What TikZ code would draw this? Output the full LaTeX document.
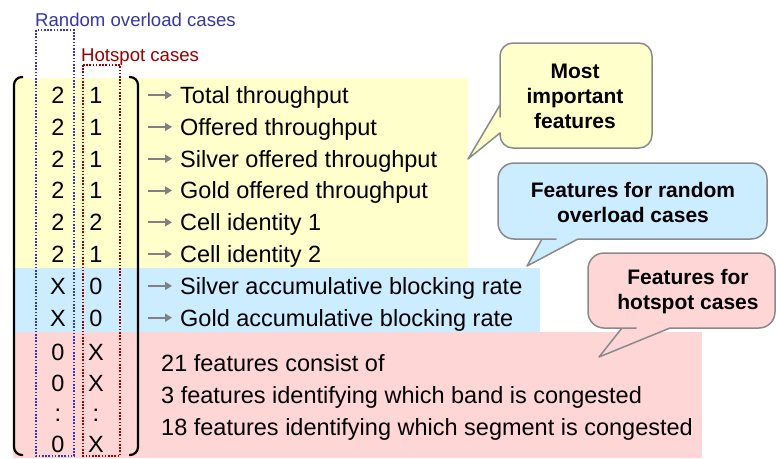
\documentclass[tikz,border=0pt]{standalone}
\usepackage{fontspec}
\setmainfont{Liberation Sans}
\usetikzlibrary{arrows.meta}
\definecolor{bandyellow}{HTML}{FFFFCC}
\definecolor{bandblue}{HTML}{CCECFF}
\definecolor{bandpink}{HTML}{FFD6D6}
\definecolor{randblue}{HTML}{3636A8}
\definecolor{hotred}{HTML}{990000}
\definecolor{bubbleline}{HTML}{8A8A8A}
\begin{document}
\begin{tikzpicture}[x=1pt, y=-1pt,
  cell/.style={anchor=base, inner sep=0pt, font=\fontsize{23.5}{28}\selectfont},
  feat/.style={anchor=west, inner xsep=8pt, inner ysep=0pt, text height=16.8pt, text depth=0pt, font=\fontsize{23.5}{28}\selectfont},
  note/.style={anchor=base west, inner sep=0pt, font=\fontsize{23.5}{28}\selectfont},
  caselabel/.style={anchor=base west, inner sep=0pt, font=\fontsize{18.6}{22}\selectfont},
  featarrow/.style={-{Triangle[length=7pt,width=8pt]}, line width=2pt, gray},
  colbox/.style={line width=1.6pt, dash pattern=on 1.6pt off 1.6pt},
  bubble/.style={draw=bubbleline, line width=1.5pt, line join=round},
  bubbletext/.style={align=center, inner sep=0pt, font=\bfseries\fontsize{21}{25}\selectfont}]
  \useasboundingbox (0,0) rectangle (776,458);
  \fill[bandyellow] (13,78) rectangle (468,268);
  \fill[bandblue] (13,268) rectangle (540,332);
  \fill[bandpink] (13,332) rectangle (702,458);
  \draw[line width=2.2pt, rounded corners=8pt] (23,77) -| (14,266) |- (23,455);
  \draw[line width=2.2pt, rounded corners=8pt] (129,77) -| (138,266) |- (129,455);
  \draw[colbox, randblue] (36,30) rectangle (74,456);
  \draw[colbox, hotred] (83,65) rectangle (120,456);
  \node[caselabel, text=randblue] (randlbl) at (35,26) {Random overload cases};
  \node[caselabel, text=hotred] (hotlbl) at (81,61) {Hotspot cases};
  \node[cell] (r1a) at (58,103.5) {2};
  \node[cell] (r1b) at (96,103.5) {1};
  \node[cell] (r2a) at (58,135.3) {2};
  \node[cell] (r2b) at (96,135.3) {1};
  \node[cell] (r3a) at (58,167.1) {2};
  \node[cell] (r3b) at (96,167.1) {1};
  \node[cell] (r4a) at (58,198.9) {2};
  \node[cell] (r4b) at (96,198.9) {1};
  \node[cell] (r5a) at (58,230.7) {2};
  \node[cell] (r5b) at (96,230.7) {2};
  \node[cell] (r6a) at (58,262.5) {2};
  \node[cell] (r6b) at (96,262.5) {1};
  \node[cell] (r7a) at (58,294.3) {X};
  \node[cell] (r7b) at (96,294.3) {0};
  \node[cell] (r8a) at (58,326.1) {X};
  \node[cell] (r8b) at (96,326.1) {0};
  \node[cell] (r9a) at (58,360.5) {0};
  \node[cell] (r9b) at (96,360.5) {X};
  \node[cell] (r10a) at (58,391.5) {0};
  \node[cell] (r10b) at (96,391.5) {X};
  \node[cell] (r11a) at (58,421.5) {:};
  \node[cell] (r11b) at (96,421.5) {:};
  \node[cell] (r12a) at (58,452) {0};
  \node[cell] (r12b) at (96,452) {X};
  \node[feat] (f1) at (172,95.1) {Total throughput};
  \node[feat] (f2) at (172,126.9) {Offered throughput};
  \node[feat] (f3) at (172,158.7) {Silver offered throughput};
  \node[feat] (f4) at (172,190.5) {Gold offered throughput};
  \node[feat] (f5) at (172,222.3) {Cell identity 1};
  \node[feat] (f6) at (172,254.1) {Cell identity 2};
  \node[feat] (f7) at (172,285.9) {Silver accumulative blocking rate};
  \node[feat] (f8) at (172,317.7) {Gold accumulative blocking rate};
  \coordinate (a1) at (148,95.1);
  \coordinate (a2) at (148,126.9);
  \coordinate (a3) at (148,158.7);
  \coordinate (a4) at (148,190.5);
  \coordinate (a5) at (148,222.3);
  \coordinate (a6) at (148,254.1);
  \coordinate (a7) at (148,285.9);
  \coordinate (a8) at (148,317.7);
  \draw[featarrow] (a1) -- (f1.west);
  \draw[featarrow] (a2) -- (f2.west);
  \draw[featarrow] (a3) -- (f3.west);
  \draw[featarrow] (a4) -- (f4.west);
  \draw[featarrow] (a5) -- (f5.west);
  \draw[featarrow] (a6) -- (f6.west);
  \draw[featarrow] (a7) -- (f7.west);
  \draw[featarrow] (a8) -- (f8.west);
  \node[note] (n1) at (161,371.5) {21 features consist of};
  \node[note] (n2) at (161,403.5) {3 features identifying which band is congested};
  \node[note] (n3) at (161,435.5) {18 features identifying which segment is congested};
  \draw[bubble, fill=bandyellow] (468,159) -- (500,133) -- (500,134) [rounded corners=13pt] -- (500,148) -- (652,148) -- (652,43) -- (500,43) -- (500,104) [sharp corners] -- (500,105) -- cycle;
  \draw[bubble, fill=bandblue] (527,266) -- (578,239) -- (580,239) [rounded corners=16pt] -- (767,239) -- (767,163) -- (498,163) -- (498,239) -- (540,239) [sharp corners] -- (542,239) -- cycle;
  \draw[bubble, fill=bandpink] (599,357) -- (670,328) -- (672,328) [rounded corners=16pt] -- (775,328) -- (775,253) -- (588,253) -- (588,328) -- (620,328) [sharp corners] -- (622,328) -- cycle;
  \node[bubbletext] (mostimp) at (575,96) {Most\\important\\features};
  \node[bubbletext] (randfeat) at (633,202) {Features for random\\overload cases};
  \node[bubbletext] (hotfeat) at (688,292) {Features for\\hotspot cases};
\end{tikzpicture}
\end{document}
